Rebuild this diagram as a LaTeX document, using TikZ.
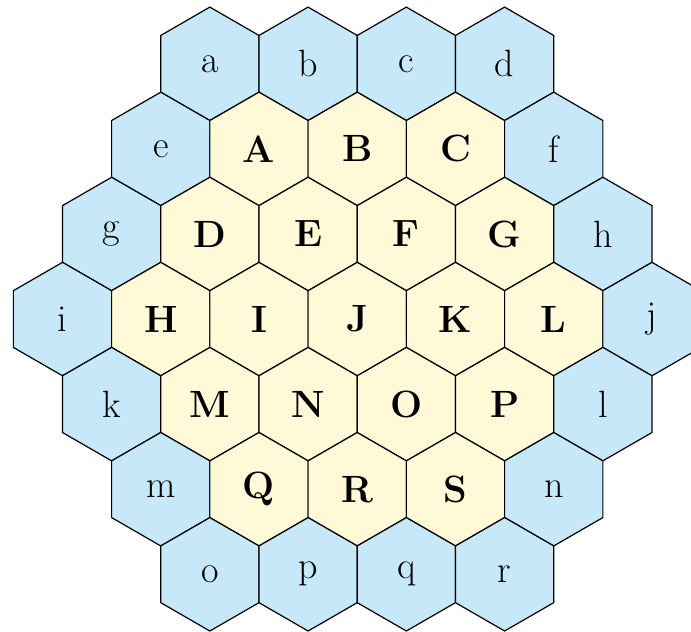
\documentclass[tikz,border=0pt]{standalone}
\usepackage{tikz}
\usetikzlibrary{shapes.geometric}
\definecolor{RimBlue}{RGB}{198,232,248}
\definecolor{CoreYellow}{RGB}{255,249,216}
\tikzset{
  hexcell/.style={regular polygon,regular polygon sides=6,shape border rotate=30,
                  draw=black,line width=0.6pt,minimum size=56.72pt,inner sep=0pt,
                  font=\fontsize{19}{22}\selectfont},
  rim/.style={hexcell,fill=RimBlue},
  core/.style={hexcell,fill=CoreYellow,font=\fontsize{19}{22}\selectfont\bfseries},
}

\begin{document}
\begin{tikzpicture}[x=24.5625pt, y=42.54pt]
    \clip (-7.272,3.750) rectangle (6.794,-3.678);

    % Top row
    \node[rim] (a) at (-3, 3) {a};
    \node[rim] (b) at (-1, 3) {b};
    \node[rim] (c) at ( 1, 3) {c};
    \node[rim] (d) at ( 3, 3) {d};

    % Second row
    \node[rim]  (e) at (-4, 2) {e};
    \node[core] (A) at (-2, 2) {A};
    \node[core] (B) at ( 0, 2) {B};
    \node[core] (C) at ( 2, 2) {C};
    \node[rim]  (f) at ( 4, 2) {f};

    % Third row
    \node[rim]  (g) at (-5, 1) {g};
    \node[core] (D) at (-3, 1) {D};
    \node[core] (E) at (-1, 1) {E};
    \node[core] (F) at ( 1, 1) {F};
    \node[core] (G) at ( 3, 1) {G};
    \node[rim]  (h) at ( 5, 1) {h};

    % Middle row
    \node[rim]  (i) at (-6, 0) {i};
    \node[core] (H) at (-4, 0) {H};
    \node[core] (I) at (-2, 0) {I};
    \node[core] (J) at ( 0, 0) {J};
    \node[core] (K) at ( 2, 0) {K};
    \node[core] (L) at ( 4, 0) {L};
    \node[rim]  (j) at ( 6, 0) {j};

    % Fifth row
    \node[rim]  (k) at (-5,-1) {k};
    \node[core] (M) at (-3,-1) {M};
    \node[core] (N) at (-1,-1) {N};
    \node[core] (O) at ( 1,-1) {O};
    \node[core] (P) at ( 3,-1) {P};
    \node[rim]  (l) at ( 5,-1) {l};

    % Sixth row
    \node[rim]  (m) at (-4,-2) {m};
    \node[core] (Q) at (-2,-2) {Q};
    \node[core] (R) at ( 0,-2) {R};
    \node[core] (S) at ( 2,-2) {S};
    \node[rim]  (n) at ( 4,-2) {n};

    % Bottom row
    \node[rim] (o) at (-3,-3) {o};
    \node[rim] (p) at (-1,-3) {p};
    \node[rim] (q) at ( 1,-3) {q};
    \node[rim] (r) at ( 3,-3) {r};

\end{tikzpicture}
\end{document}
